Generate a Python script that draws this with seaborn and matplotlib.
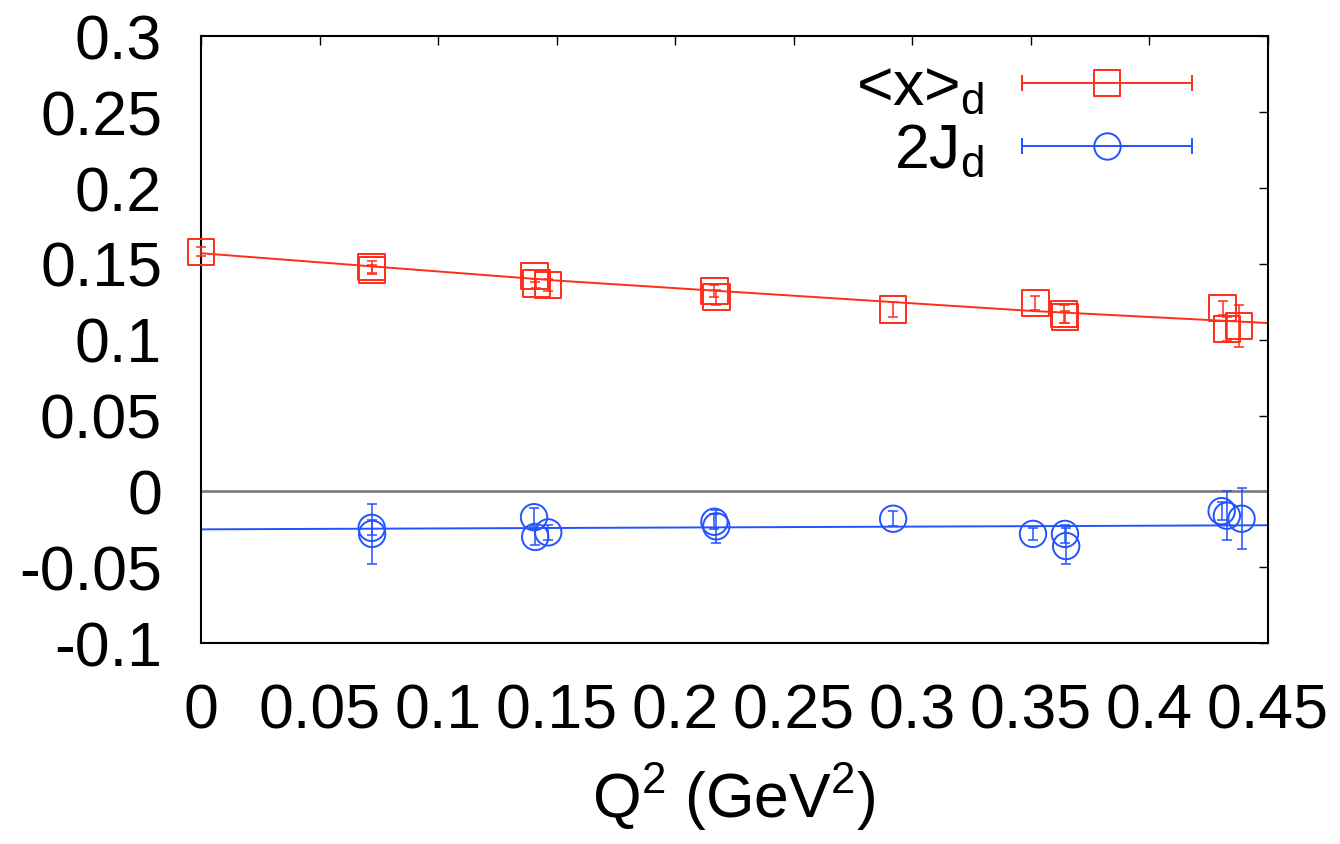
import numpy as np
import matplotlib
matplotlib.use("Agg")
import matplotlib.pyplot as plt
import seaborn as sns
from matplotlib.lines import Line2D
from matplotlib.legend_handler import HandlerLine2D, HandlerTuple

# ---------------- data ----------------
# <x>_d  (red squares)
q2_x = [0.0, 0.072, 0.0722, 0.1407, 0.1415, 0.1463, 0.2166, 0.2174, 0.292,
        0.352, 0.364, 0.3645, 0.431, 0.4328, 0.438]
x_d = [0.158, 0.148, 0.146, 0.142, 0.137, 0.136, 0.132, 0.128, 0.120,
       0.124, 0.117, 0.115, 0.121, 0.107, 0.109]
x_err = [0.003, 0.004, 0.003, 0.004, 0.003, 0.004, 0.004, 0.005, 0.005,
         0.0045, 0.006, 0.004, 0.0046, 0.008, 0.014]

# 2J_d  (blue circles)
q2_j = [0.072, 0.0722, 0.1405, 0.141, 0.1465, 0.2166, 0.2174, 0.292,
        0.351, 0.3645, 0.365, 0.4306, 0.4328, 0.439]
j_d = [-0.024, -0.028, -0.017, -0.030, -0.027, -0.020, -0.023, -0.018,
       -0.028, -0.028, -0.036, -0.013, -0.016, -0.018]
j_err = [0.005, 0.020, 0.006, 0.005, 0.005, 0.005, 0.011, 0.005,
         0.004, 0.006, 0.012, 0.006, 0.016, 0.020]

# fit curves
fit_q2 = [0.0, 0.05, 0.10, 0.15, 0.20, 0.25, 0.30, 0.35, 0.40, 0.45]
fit_x = [0.157, 0.151, 0.145, 0.139, 0.134, 0.129, 0.124, 0.119, 0.115, 0.111]
fit_j = [-0.0250, -0.0247, -0.0244, -0.0241, -0.0238, -0.0235, -0.0232,
         -0.0229, -0.0226, -0.0223]

xticks = [0, 0.05, 0.1, 0.15, 0.2, 0.25, 0.3, 0.35, 0.4, 0.45]
xtick_labels = ["0", "0.05", "0.1", "0.15", "0.2", "0.25", "0.3", "0.35", "0.4", "0.45"]
yticks = [-0.1, -0.05, 0, 0.05, 0.1, 0.15, 0.2, 0.25, 0.3]
ytick_labels = ["-0.1", "-0.05", "0", "0.05", "0.1", "0.15", "0.2", "0.25", "0.3"]

labels = [r"<x>$_\mathrm{d}$", r"2J$_\mathrm{d}$"]
xlabel = r"Q$^\mathrm{2}$ (GeV$^\mathrm{2}$)"

RED = "#ff2d1a"
BLUE = "#2352ff"

# ---------------- style ----------------
sns.set_style("white")
plt.rcParams["font.family"] = ["Liberation Sans", "DejaVu Sans"]
plt.rcParams["mathtext.fontset"] = "custom"
plt.rcParams["mathtext.rm"] = "Liberation Sans"
plt.rcParams["mathtext.it"] = "Liberation Sans:italic"
plt.rcParams["mathtext.bf"] = "Liberation Sans:bold"
plt.rcParams["text.color"] = "black"
plt.rcParams["axes.labelcolor"] = "black"

FS = 45
MS = 19
LW = 1.4

fig = plt.figure(figsize=(13.4, 8.44), dpi=100)
ax = fig.add_axes([0.150, 0.238, 0.796, 0.719])

ax.axhline(0, color="#808080", lw=2.0, zorder=1)

sns.lineplot(x=fit_q2, y=fit_x, color=RED, lw=LW, ax=ax, zorder=2)
sns.lineplot(x=fit_q2, y=fit_j, color=BLUE, lw=LW, ax=ax, zorder=2)

ax.errorbar(q2_x, x_d, yerr=x_err, fmt="none", ecolor=RED, elinewidth=1.1,
            capsize=3.5, capthick=1.1, zorder=3, clip_on=False)
ax.errorbar(q2_j, j_d, yerr=j_err, fmt="none", ecolor=BLUE, elinewidth=1.1,
            capsize=3.5, capthick=1.1, zorder=3, clip_on=False)

sns.scatterplot(x=q2_x, y=x_d, marker="s", s=MS**2, color=RED, facecolor="none",
                edgecolor=RED, linewidth=LW, ax=ax, zorder=4, clip_on=False)
sns.scatterplot(x=q2_j, y=j_d, marker="o", s=MS**2, color=BLUE, facecolor="none",
                edgecolor=BLUE, linewidth=LW, ax=ax, zorder=4, clip_on=False)

ax.set_xlim(0, 0.45)
ax.set_ylim(-0.1, 0.3)
ax.set_xticks(xticks)
ax.set_xticklabels(xtick_labels)
ax.set_yticks(yticks)
ax.set_yticklabels(ytick_labels)
ax.tick_params(axis="both", direction="in", top=True, right=True, length=6.5,
               width=1.0, labelsize=FS, colors="black")
ax.tick_params(axis="x", pad=28)
ax.tick_params(axis="y", pad=28)
for sp in ax.spines.values():
    sp.set_color("black")
    sp.set_linewidth(1.5)
ax.set_xlabel(xlabel, fontsize=FS, labelpad=15, color="black")
ax.set_ylabel("")

# legend in gnuplot style: text on the left, horizontal errorbar sample on the right
h_x = Line2D([], [], color=RED, lw=LW, marker="s", ms=MS, mfc="none", mec=RED, mew=LW)
c_x = Line2D([], [], color=RED, ls="none", marker="|", ms=12, mew=LW)
h_j = Line2D([], [], color=BLUE, lw=LW, marker="o", ms=MS, mfc="none", mec=BLUE, mew=LW)
c_j = Line2D([], [], color=BLUE, ls="none", marker="|", ms=12, mew=LW)
hmap = {
    tuple: HandlerTuple(ndivide=1, pad=0),
    h_x: HandlerLine2D(numpoints=1),
    h_j: HandlerLine2D(numpoints=1),
    c_x: HandlerLine2D(numpoints=2, marker_pad=0),
    c_j: HandlerLine2D(numpoints=2, marker_pad=0),
}
leg = ax.legend([(h_x, c_x), (h_j, c_j)], labels, handler_map=hmap,
                loc="upper right", bbox_to_anchor=(1192 / 1340, 1 - 59 / 844),
                bbox_transform=fig.transFigure, frameon=False, markerfirst=False,
                handlelength=2.72, handletextpad=0.6, labelspacing=0.06,
                fontsize=FS, borderpad=0, borderaxespad=0)
for t in leg.get_texts():
    t.set_color("black")

fig.savefig("out.png", dpi=100)
